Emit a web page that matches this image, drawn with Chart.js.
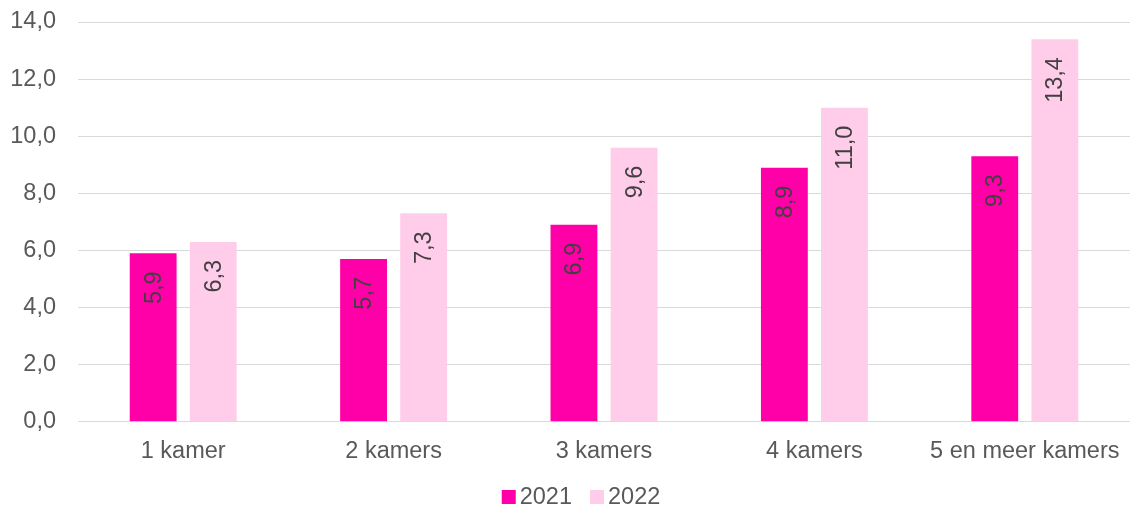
<!DOCTYPE html>
<html>
<head>
<meta charset="utf-8">
<script src="https://cdn.jsdelivr.net/npm/chart.js@4/dist/chart.umd.min.js"></script>
<style>
  html, body { margin: 0; padding: 0; background: #ffffff; }
  #wrap { width: 1130px; height: 510px; position: relative; }
</style>
</head>
<body>
<div id="wrap"><canvas id="chart"></canvas></div>
<script>
// Aantal kamers per woning
const categories = ['1 kamer', '2 kamers', '3 kamers', '4 kamers', '5 en meer kamers'];
const values2021 = [5.9, 5.7, 6.9, 8.9, 9.3];
const values2022 = [6.3, 7.3, 9.6, 11.0, 13.4];
const seriesNames = ['2021', '2022'];
const seriesColors = ['#FF00A8', '#FFCCE9'];
const yTicks = [0, 2, 4, 6, 8, 10, 12, 14];

const FONT = 'Liberation Sans, Arial, sans-serif';
const FS = 23.5;
const fmt = v => v.toFixed(1).replace('.', ',');

// Value labels drawn vertically inside the top of each bar
const barLabels = {
  id: 'barLabels',
  afterDatasetsDraw(chart) {
    const ctx = chart.ctx;
    ctx.save();
    ctx.font = FS + 'px ' + FONT;
    ctx.fillStyle = '#404040';
    ctx.textAlign = 'right';
    ctx.textBaseline = 'middle';
    chart.data.datasets.forEach((ds, i) => {
      const meta = chart.getDatasetMeta(i);
      meta.data.forEach((bar, j) => {
        ctx.save();
        ctx.translate(bar.x + 1, bar.y + 18);
        ctx.rotate(-Math.PI / 2);
        ctx.fillText(fmt(ds.data[j]), 0, 0);
        ctx.restore();
      });
    });
    ctx.restore();
  }
};

// Compact legend under the axis: small square, then the series name
const bottomLegend = {
  id: 'bottomLegend',
  afterDraw(chart) {
    const ctx = chart.ctx;
    const box = 14, gapText = 4, gapItem = 18;
    ctx.save();
    ctx.font = FS + 'px ' + FONT;
    ctx.textBaseline = 'middle';
    ctx.textAlign = 'left';
    const items = chart.data.datasets.map(ds => ({
      text: ds.label, color: ds.backgroundColor, w: ctx.measureText(ds.label).width
    }));
    const total = items.reduce((s, it) => s + box + gapText + it.w, 0) + gapItem * (items.length - 1);
    let x = (chart.width - total) / 2 + 16;
    const y = 497;
    items.forEach(it => {
      ctx.fillStyle = it.color;
      ctx.fillRect(x, y - box / 2, box, box);
      x += box + gapText;
      ctx.fillStyle = '#595959';
      ctx.fillText(it.text, x, y + 1);
      x += it.w + gapItem;
    });
    ctx.restore();
  }
};

new Chart(document.getElementById('chart'), {
  type: 'bar',
  data: {
    labels: categories,
    datasets: [
      { label: seriesNames[0], data: values2021, backgroundColor: seriesColors[0] },
      { label: seriesNames[1], data: values2022, backgroundColor: seriesColors[1] }
    ]
  },
  options: {
    responsive: true,
    maintainAspectRatio: false,
    animation: false,
    layout: { padding: { top: 22, right: 0, left: 0, bottom: 36 } },
    datasets: { bar: { categoryPercentage: 0.571, barPercentage: 0.78 } },
    plugins: {
      legend: { display: false },
      tooltip: { enabled: false }
    },
    scales: {
      x: {
        grid: { display: false },
        border: { color: '#d9d9d9', width: 1 },
        ticks: { color: '#595959', font: { family: FONT, size: FS }, padding: 8, maxRotation: 0 }
      },
      y: {
        min: 0, max: 14,
        afterBuildTicks(axis) { axis.ticks = yTicks.map(v => ({ value: v })); },
        afterFit(axis) { axis.width = 78; axis.paddingTop = 0; axis.paddingBottom = 0; },
        grid: { color: '#d9d9d9', lineWidth: 1, drawTicks: false },
        border: { display: false },
        ticks: {
          color: '#595959', font: { family: FONT, size: FS }, padding: 22,
          callback: v => fmt(v)
        }
      }
    }
  },
  plugins: [barLabels, bottomLegend]
});
</script>
</body>
</html>
